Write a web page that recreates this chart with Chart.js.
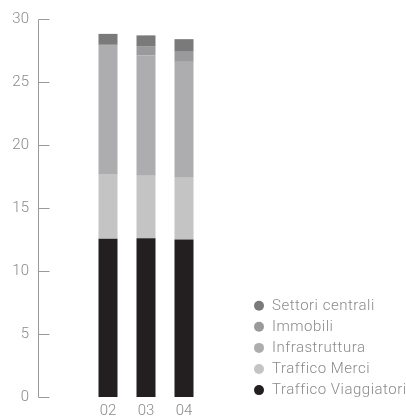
<!DOCTYPE html>
<html>
<head>
<meta charset="utf-8">
<script src="https://cdn.jsdelivr.net/npm/chart.js@4/dist/chart.umd.min.js"></script>
<style>
  html, body { margin: 0; padding: 0; background: #ffffff; }
  #wrap { position: relative; width: 406px; height: 416px; }
</style>
</head>
<body>
<div id="wrap"><canvas id="chart" width="406" height="416"></canvas></div>
<script>
// Years (20xx) on the category axis
const years = ['02', '03', '04'];

// Segment values per year, stacked bottom to top (billion)
const trafficoViaggiatori = [12.55, 12.6, 12.5];
const trafficoMerci = [5.15, 4.95, 4.9];
const infrastruttura = [10.25, 9.55, 9.2];
const immobili = [0, 0.75, 0.8];
const settoriCentrali = [0.87, 0.85, 1.0];

const seriesNames = ['Traffico Viaggiatori', 'Traffico Merci', 'Infrastruttura', 'Immobili', 'Settori centrali'];
const yTicks = [0, 5, 10, 15, 20, 25, 30];

const colors = ['#231f20', '#c4c4c4', '#adacaf', '#9a999c', '#7a7a7b'];
const seriesValues = [trafficoViaggiatori, trafficoMerci, infrastruttura, immobili, settoriCentrali];

const FONT = "Roboto, 'Liberation Sans', Arial, sans-serif";
const TEXT_GREY = '#8a8a8a';
const AXIS_GREY = '#9a9a9a';

// Left axis: vertical rule with short inward tick marks
const axisRule = {
  id: 'axisRule',
  afterDraw(chart) {
    const y = chart.scales.y;
    const ctx = chart.ctx;
    const x0 = 38.5;
    ctx.save();
    ctx.strokeStyle = AXIS_GREY;
    ctx.lineWidth = 1;
    ctx.beginPath();
    ctx.moveTo(x0, Math.round(y.getPixelForValue(30)) + 0.5);
    ctx.lineTo(x0, Math.round(y.getPixelForValue(0)) + 0.5);
    yTicks.forEach(v => {
      const py = Math.round(y.getPixelForValue(v)) + 0.5;
      ctx.moveTo(x0, py);
      ctx.lineTo(x0 + 11, py);
    });
    ctx.stroke();
    ctx.restore();
  }
};

// Legend at the lower right, top entry = top segment of the stack
const sideLegend = {
  id: 'sideLegend',
  afterDraw(chart) {
    const ctx = chart.ctx;
    const sets = chart.data.datasets.slice().reverse();
    const cx = 259, top = 305.7, step = 21.1;
    ctx.save();
    ctx.font = '300 15px ' + FONT;
    ctx.letterSpacing = '0.5px';
    ctx.textBaseline = 'middle';
    ctx.textAlign = 'left';
    sets.forEach((ds, i) => {
      const cy = top + i * step;
      ctx.fillStyle = ds.backgroundColor;
      ctx.beginPath();
      ctx.arc(cx, cy, 5, 0, Math.PI * 2);
      ctx.fill();
      ctx.fillStyle = TEXT_GREY;
      ctx.fillText(ds.label, cx + 13, cy + 0.5);
    });
    ctx.restore();
  }
};

new Chart(document.getElementById('chart'), {
  type: 'bar',
  data: {
    labels: years,
    datasets: seriesNames.map((name, i) => ({
      label: name,
      data: seriesValues[i],
      backgroundColor: colors[i],
      borderWidth: 0,
      categoryPercentage: 1,
      barPercentage: 0.5
    }))
  },
  options: {
    responsive: false,
    animation: false,
    devicePixelRatio: 1,
    layout: { padding: { top: 19, right: 203, bottom: 0, left: 0 } },
    plugins: { legend: { display: false }, tooltip: { enabled: false } },
    scales: {
      x: {
        stacked: true,
        grid: { display: false, drawTicks: false },
        border: { display: false },
        ticks: { color: TEXT_GREY, font: { family: FONT, size: 15, weight: 300 }, padding: 5 },
        afterFit: s => { s.height = 19; s.paddingLeft = 0; s.paddingRight = 0; }
      },
      y: {
        stacked: true,
        min: 0,
        max: 30,
        afterBuildTicks: s => { s.ticks = yTicks.map(v => ({ value: v })); },
        grid: { display: false, drawTicks: false },
        border: { display: false },
        ticks: { color: TEXT_GREY, font: { family: FONT, size: 15, weight: 300 }, padding: 60 },
        afterFit: s => { s.width = 89; s.paddingTop = 8; s.paddingBottom = 8; }
      }
    }
  },
  plugins: [axisRule, sideLegend]
});
</script>
</body>
</html>
